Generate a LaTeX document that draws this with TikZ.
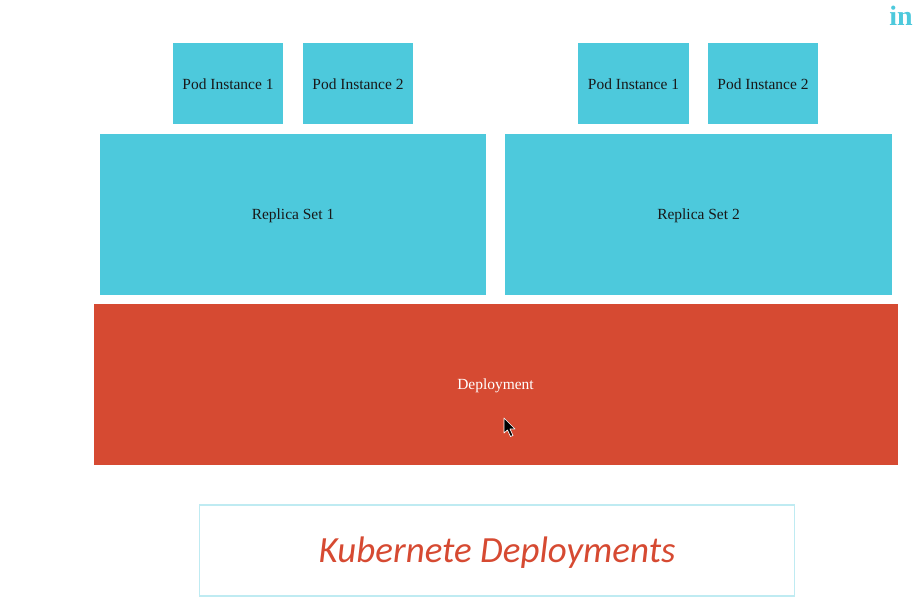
\documentclass[tikz,border=0pt]{standalone}
\usepackage{fontspec}
\setmainfont{Liberation Serif}
\newfontfamily\titlefont{Carlito}
\usetikzlibrary{positioning}
\definecolor{podblue}{HTML}{4DC9DC}
\definecolor{deployred}{HTML}{D64A32}
\definecolor{titleline}{HTML}{BFEBF2}
\tikzstyle{pod} = [rectangle, minimum width=83pt, minimum height=61pt, inner sep=0pt, text height=9.5pt, text depth=0pt, text centered, fill=podblue, text=black!90, font=\fontsize{11.6}{14}\selectfont]
\tikzstyle{replica} = [rectangle, minimum width=290pt, minimum height=121pt, inner sep=0pt, text height=9.5pt, text depth=1.5pt, text centered, fill=podblue, text=black!90, font=\fontsize{11.6}{14}\selectfont]
\tikzstyle{deploy} = [rectangle, minimum width=603pt, minimum height=121pt, inner sep=0pt, text height=8pt, text depth=1pt, text centered, fill=deployred, text=white, font=\fontsize{11.6}{14}\selectfont]
\tikzstyle{banner} = [rectangle, minimum width=446pt, minimum height=68pt, inner sep=0pt, text height=19pt, text depth=1.5pt, text centered, draw=titleline, line width=1.2pt, text=deployred, font=\titlefont\itshape\fontsize{27.7}{32}\selectfont]

\begin{document}
\begin{tikzpicture}[x=0.75pt, y=0.75pt]
  \useasboundingbox (0,0) rectangle (913,-613);
  \node (pod1a) [pod] at (228,-83.5) {Pod Instance 1};
  \node (pod1b) [pod] at (358,-83.5) {Pod Instance 2};
  \node (pod2a) [pod] at (633.5,-83.5) {Pod Instance 1};
  \node (pod2b) [pod] at (763,-83.5) {Pod Instance 2};

  \node (set1) [replica] at (293,-214.5) {Replica Set 1};
  \node (set2) [replica] at (698.5,-214.5) {Replica Set 2};

  \node (deployment) [deploy] at (495.5,-384.5) {Deployment};

  \node (title) [banner] at (497,-550.5) {Kubernete Deployments};

  \node (logo) [anchor=east, inner sep=0pt, text=podblue, font=\bfseries\fontsize{21}{24}\selectfont] at (913,-16) {in};

  % mouse pointer
  \draw [fill=black, draw=white, line width=0.5pt, line join=round] (504,-418) -- (504,-433) -- (507.5,-430) -- (510.5,-436.5) -- (513,-435.5) -- (510,-429) -- (515,-429) -- cycle;
\end{tikzpicture}
\end{document}
